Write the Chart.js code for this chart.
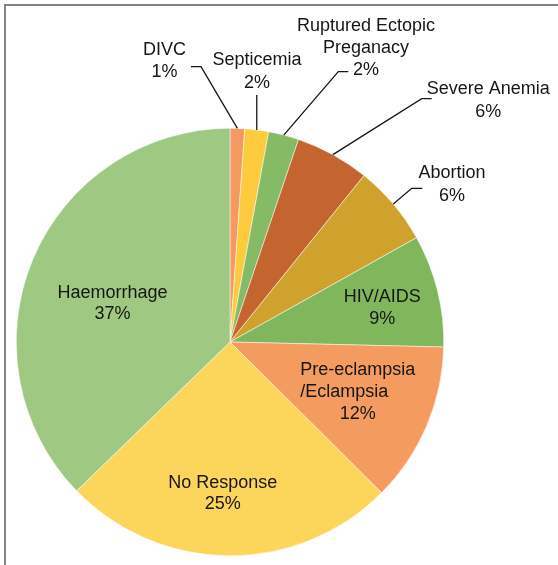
<!DOCTYPE html>
<html>
<head>
<meta charset="utf-8">
<script src="https://cdn.jsdelivr.net/npm/chart.js@4"></script>
<style>
  html, body { margin: 0; padding: 0; background: #ffffff; }
  #wrap { position: relative; width: 558px; height: 565px; overflow: hidden; }
  #frame { position: absolute; left: 4px; top: 4px; width: 600px; height: 600px;
           border-top: 2px solid #858585; border-left: 2px solid #858585; }
  #c { position: absolute; left: 0; top: 0; }
</style>
</head>
<body>
<div id="wrap">
  <div id="frame"></div>
  <canvas id="c" width="558" height="565"></canvas>
</div>
<script>
// ---- data ----
const categories = ["DIVC", "Septicemia", "Ruptured Ectopic Preganacy", "Severe Anemia", "Abortion",
                    "HIV/AIDS", "Pre-eclampsia /Eclampsia", "No Response", "Haemorrhage"];
const values = [1.1, 1.8, 2.3, 5.6, 6.1, 8.5, 12.1, 25.3, 37.3];
const percentLabels = ["1%", "2%", "2%", "6%", "6%", "9%", "12%", "25%", "37%"];
const labelLines = [
  ["DIVC"], ["Septicemia"], ["Ruptured Ectopic", "Preganacy"], ["Severe Anemia"], ["Abortion"],
  ["HIV/AIDS"], ["Pre-eclampsia", "/Eclampsia"], ["No Response"], ["Haemorrhage"]
];
const colors = ["#F4995F", "#FECB3E", "#86BB66", "#C4652F", "#CFA22E",
                "#80B75D", "#F49B5F", "#FCD55B", "#9FC983"];

// ---- label layout (offsets from pie centre, px) ----
const labelLayout = [
  {dx: -65.4, dy: -287,   lh: 22.3, leader: [[-39, -275.3], [-29, -275.3]]},
  {dx: 27,    dy: -277,   lh: 22.5, leader: [[null, -247]]},
  {dx: 136,   dy: -311.3, lh: 22.1, leader: [[118.3, -270.3], [108.3, -270.3]]},
  {dx: 258.3, dy: -247.7, lh: 22.4, leader: [[201.7, -243.3], [191.7, -243.3]]},
  {dx: 222,   dy: -163.7, lh: 22.2, leader: [[192.3, -153.7], [181.7, -153.7]]},
  {dx: 152.3, dy: -40.3,  lh: 22.3},
  {dx: 127.7, dy: 33.3,   lh: 21.8, align: ["center", "left", "center"]},
  {dx: -7.2,  dy: 146.3,  lh: 20.7},
  {dx: -117.5,dy: -43.7,  lh: 21}
];

const labelPlugin = {
  id: 'sliceLabels',
  afterDatasetsDraw(chart) {
    const ctx = chart.ctx;
    const meta = chart.getDatasetMeta(0);
    ctx.save();
    ctx.font = '18px "Liberation Sans", Arial, sans-serif';
    ctx.fillStyle = '#161616';
    ctx.strokeStyle = '#161616';
    ctx.lineWidth = 1.3;
    ctx.textBaseline = 'alphabetic';
    meta.data.forEach((arc, i) => {
      const p = arc.getProps(['x', 'y', 'startAngle', 'endAngle', 'outerRadius'], true);
      const L = labelLayout[i];
      const mid = (p.startAngle + p.endAngle) / 2;
      const ex = p.x + Math.cos(mid) * p.outerRadius;
      const ey = p.y + Math.sin(mid) * p.outerRadius;
      if (L.leader) {
        ctx.beginPath();
        L.leader.forEach((pt, k) => {
          const px = pt[0] === null ? ex : p.x + pt[0];
          const py = p.y + pt[1];
          if (k === 0) ctx.moveTo(px, py); else ctx.lineTo(px, py);
        });
        ctx.lineTo(ex, ey);
        ctx.stroke();
      }
      const lines = labelLines[i].concat([percentLabels[i]]);
      const cx = p.x + L.dx;
      const widths = lines.map(t => ctx.measureText(t).width);
      lines.forEach((t, k) => {
        const a = L.align ? L.align[k] : 'center';
        const y = p.y + L.dy + k * L.lh;
        if (a === 'left') {
          ctx.textAlign = 'left';
          ctx.fillText(t, cx - widths[0] / 2, y);
        } else {
          ctx.textAlign = 'center';
          ctx.fillText(t, cx, y);
        }
      });
    });
    ctx.restore();
  }
};

new Chart(document.getElementById('c'), {
  type: 'pie',
  data: {
    labels: categories,
    datasets: [{
      data: values,
      backgroundColor: colors,
      borderColor: '#ffffff',
      borderWidth: 0.5
    }]
  },
  options: {
    responsive: false,
    animation: false,
    layout: { padding: { left: 16, right: 114, top: 128, bottom: 9 } },
    plugins: { legend: { display: false }, tooltip: { enabled: false } }
  },
  plugins: [labelPlugin]
});
</script>
</body>
</html>
